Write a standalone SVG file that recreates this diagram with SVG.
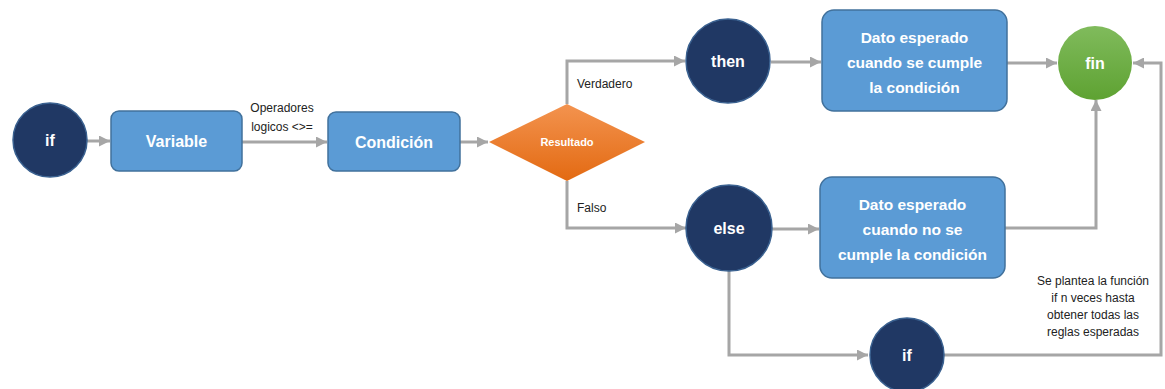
<svg xmlns="http://www.w3.org/2000/svg" width="1165" height="389" viewBox="0 0 1165 389">
  <defs>
    <marker id="arrow" viewBox="0 0 10 10" refX="10" refY="5" markerWidth="11" markerHeight="11" markerUnits="userSpaceOnUse" orient="auto">
      <path d="M0,0 L10,5 L0,10 z" fill="#A6A6A6"/>
    </marker>
    <linearGradient id="orange" x1="0" y1="0" x2="0" y2="1">
      <stop offset="0" stop-color="#F3934F"/>
      <stop offset="1" stop-color="#E36A12"/>
    </linearGradient>
    <linearGradient id="green" x1="0" y1="0" x2="0" y2="1">
      <stop offset="0" stop-color="#80BB5C"/>
      <stop offset="1" stop-color="#5EA232"/>
    </linearGradient>
    <style>
      .conn { fill: none; stroke: #A6A6A6; stroke-width: 3; }
      .dark { fill: #203864; stroke: #3A6190; stroke-width: 1.5; }
      .box { fill: #5B9BD5; stroke: #41719C; stroke-width: 1.5; }
      .wt { fill: #FFFFFF; font-family: "Liberation Sans", Arial, sans-serif; font-weight: bold; text-anchor: middle; }
      .lbl { fill: #222222; font-family: "Liberation Sans", Arial, sans-serif; font-size: 12px; }
      .mid { text-anchor: middle; }
    </style>
  </defs>

  <!-- connectors -->
  <g id="connectors">
    <line class="conn" x1="87" y1="141" x2="110" y2="141" marker-end="url(#arrow)"/>
    <line class="conn" x1="242" y1="142" x2="327" y2="142" marker-end="url(#arrow)"/>
    <line class="conn" x1="460" y1="142" x2="488" y2="142" marker-end="url(#arrow)"/>
    <polyline class="conn" points="567,104 567,61 685,61" marker-end="url(#arrow)"/>
    <polyline class="conn" points="567,181 567,228 686,228" marker-end="url(#arrow)"/>
    <line class="conn" x1="771" y1="62" x2="821" y2="62" marker-end="url(#arrow)"/>
    <line class="conn" x1="1007" y1="63" x2="1057" y2="63" marker-end="url(#arrow)"/>
    <line class="conn" x1="772" y1="229" x2="819" y2="229" marker-end="url(#arrow)"/>
    <polyline class="conn" points="1005,228 1096,228 1096,100" marker-end="url(#arrow)"/>
    <polyline class="conn" points="729,271 729,355 868,355" marker-end="url(#arrow)"/>
    <polyline class="conn" points="944,355 1161,355 1161,63 1133,63" marker-end="url(#arrow)"/>
    <text class="lbl mid" x="282" y="112">Operadores</text>
    <text class="lbl mid" x="282" y="131">logicos &lt;&gt;=</text>
    <text class="lbl" x="577" y="88">Verdadero</text>
    <text class="lbl" x="577" y="212">Falso</text>
  </g>

  <!-- nodes -->
  <g id="node-if">
    <circle class="dark" cx="50" cy="140" r="37"/>
    <text class="wt" x="50" y="146" font-size="16">if</text>
  </g>
  <g id="node-variable">
    <rect class="box" x="111" y="111" width="131" height="60" rx="8"/>
    <text class="wt" x="176.500" y="147" font-size="16">Variable</text>
  </g>
  <g id="node-condicion">
    <rect class="box" x="328" y="112" width="132" height="59" rx="8"/>
    <text class="wt" x="394" y="148" font-size="16">Condición</text>
  </g>
  <g id="node-resultado">
    <polygon points="489,142 567,104 645,142 567,181" fill="url(#orange)"/>
    <text class="wt" x="567" y="146" font-size="11">Resultado</text>
  </g>
  <g id="node-then">
    <circle class="dark" cx="728" cy="61" r="42"/>
    <text class="wt" x="728" y="67" font-size="16">then</text>
  </g>
  <g id="node-dato-true">
    <rect class="box" x="822" y="10" width="185" height="101" rx="12"/>
    <text class="wt" font-size="15.5"><tspan x="914.500" y="43">Dato esperado</tspan><tspan x="914.500" y="68">cuando se cumple</tspan><tspan x="914.500" y="93">la condición</tspan></text>
  </g>
  <g id="node-fin">
    <circle cx="1095" cy="63" r="37" fill="url(#green)"/>
    <text class="wt" x="1095" y="69" font-size="16">fin</text>
  </g>
  <g id="node-else">
    <circle class="dark" cx="729" cy="228" r="43"/>
    <text class="wt" x="729" y="234" font-size="16">else</text>
  </g>
  <g id="node-dato-false">
    <rect class="box" x="820" y="177" width="185" height="101" rx="12"/>
    <text class="wt" font-size="15.5"><tspan x="912.500" y="210">Dato esperado</tspan><tspan x="912.500" y="235">cuando no se</tspan><tspan x="912.500" y="260">cumple la condición</tspan></text>
  </g>
  <g id="node-if-repeat">
    <circle class="dark" cx="907" cy="355" r="37"/>
    <text class="wt" x="907" y="361" font-size="16">if</text>
  </g>
  <g id="note">
    <text class="lbl mid" font-size="11.5"><tspan x="1093" y="285">Se plantea la función</tspan><tspan x="1093" y="302">if n veces hasta</tspan><tspan x="1093" y="319">obtener todas las</tspan><tspan x="1093" y="336">reglas esperadas</tspan></text>
  </g>
</svg>
